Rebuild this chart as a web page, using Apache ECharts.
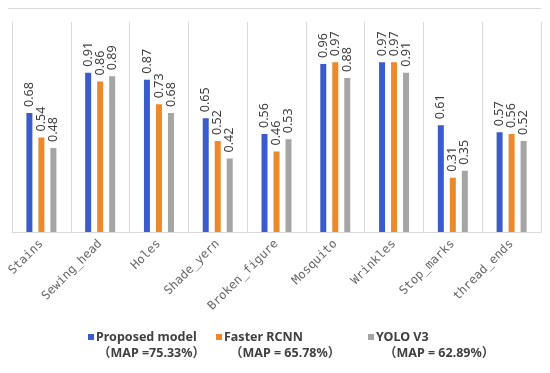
<!DOCTYPE html>
<html>
<head>
<meta charset="utf-8">
<script src="https://cdn.jsdelivr.net/npm/echarts@6/dist/echarts.min.js"></script>
<style>html,body{margin:0;padding:0;background:#fff}#c{width:550px;height:373px}</style>
</head>
<body>
<div id="c"></div>
<script>
const categories = ['Stains','Sewing_head','Holes','Shade_yern','Broken_figure','Mosquito','Wrinkles','Stop_marks','thread_ends'];
const proposed = [0.68,0.91,0.87,0.65,0.56,0.96,0.97,0.61,0.57];
const faster = [0.54,0.86,0.73,0.52,0.46,0.97,0.97,0.31,0.56];
const yolo = [0.48,0.89,0.68,0.42,0.53,0.88,0.91,0.35,0.52];
const seriesNames = ['Proposed model','Faster RCNN','YOLO V3'];
const mapLabels = ['（MAP =75.33%）','（MAP = 65.78%）','（MAP = 62.89%）'];
const colors = ['#3a5bcc','#ec8a2b','#a5a5a5'];
const valuesList = [proposed, faster, yolo];

const chart = echarts.init(document.getElementById('c'));
const legendLefts = [88, 216, 368];
const mapPads = [2, 6, 8];

const legends = seriesNames.map((n, i) => ({
  data: [n],
  left: legendLefts[i],
  top: 315,
  padding: 0,
  icon: 'rect',
  itemWidth: 6,
  itemHeight: 6,
  selectedMode: false,
  formatter: name => '{e| }\n{n|' + name + '}\n{m|' + mapLabels[i] + '}',
  textStyle: {
    padding: [0, 0, 0, -3],
    rich: {
      e: {fontSize: 12, lineHeight: 16},
      n: {fontSize: 12.5, lineHeight: 16, fontWeight: 'bold', color: '#404040', fontFamily: "'Noto Sans','Noto Sans CJK SC'"},
      m: {fontSize: 12.5, lineHeight: 16, fontWeight: 'bold', color: '#404040', fontFamily: "'Noto Sans','Noto Sans CJK SC'", padding: [0, 0, 0, mapPads[i]]}
    }
  }
}));

const option = {
  animation: false,
  backgroundColor: '#fff',
  grid: {left: 12, right: 9, top: 22, bottom: 141, containLabel: false},
  legend: legends,
  graphic: [{
    type: 'line', shape: {x1: 8, y1: 8.5, x2: 541, y2: 8.5},
    style: {stroke: '#d9d9d9', lineWidth: 1}, silent: true
  }],
  xAxis: {
    type: 'category',
    data: categories,
    axisLine: {show: true, lineStyle: {color: '#d9d9d9'}},
    axisTick: {show: false},
    splitLine: {show: true, lineStyle: {color: '#d9d9d9'}},
    axisLabel: {
      rotate: 45, margin: 10, interval: 0,
      color: '#666666', fontSize: 12, fontFamily: "'DejaVu Sans Mono', monospace"
    }
  },
  yAxis: {
    type: 'value', min: 0, max: 1.2, show: false,
    splitLine: {show: false}
  },
  series: seriesNames.map((n, i) => ({
    name: n,
    type: 'bar',
    data: valuesList[i],
    barWidth: 6,
    barGap: '100%',
    itemStyle: {color: colors[i]},
    label: {
      show: true, position: 'top', rotate: 90, align: 'left', verticalAlign: 'middle',
      distance: 6, color: '#404040', fontSize: 12.5, fontFamily: "'Noto Sans'",
      formatter: p => p.value.toFixed(2)
    }
  }))
};
chart.setOption(option);
</script>
</body>
</html>
